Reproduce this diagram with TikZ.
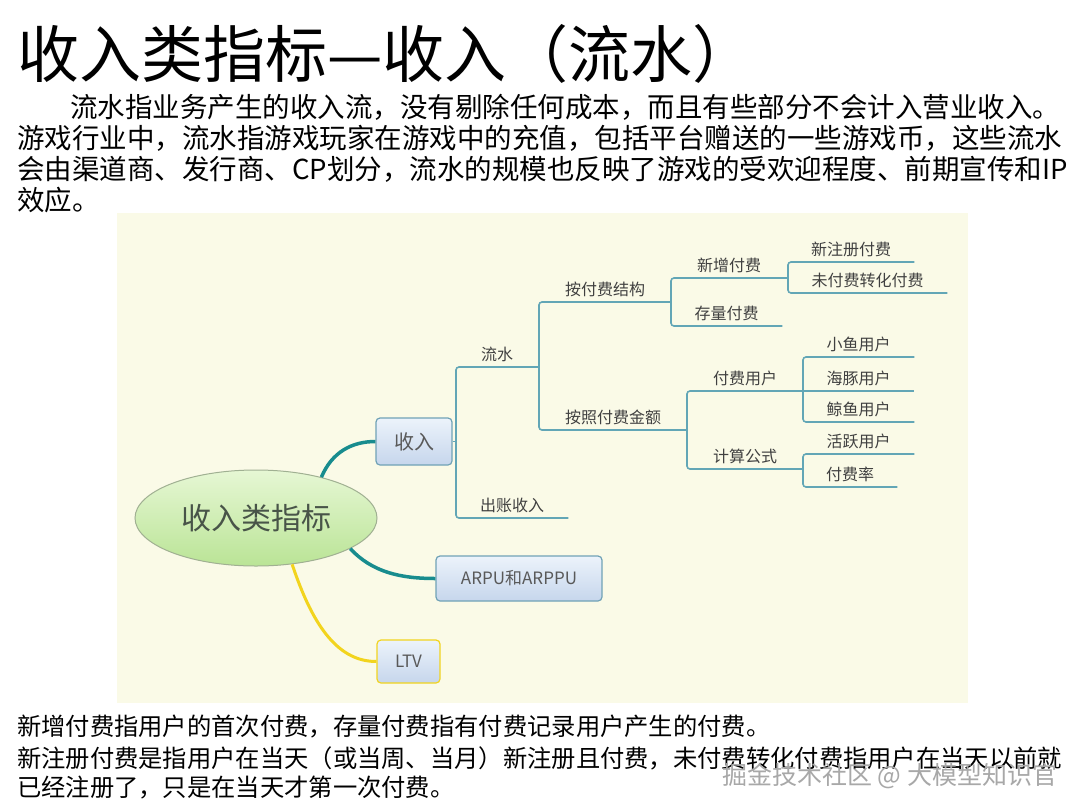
\documentclass[tikz,border=0pt]{standalone}
\usepackage{fontspec}
\setmainfont{Noto Sans CJK SC}
\usepackage{tikz}
\usetikzlibrary{shapes.geometric}

\definecolor{mapbg}{RGB}{250,250,231}
\definecolor{treeline}{RGB}{98,166,182}
\definecolor{linkteal}{RGB}{24,140,142}
\definecolor{linkyellow}{RGB}{242,212,30}
\definecolor{boxline}{RGB}{112,162,182}
\definecolor{marktext}{RGB}{168,168,168}

\begin{document}
\begin{tikzpicture}[x=1pt, y=-1pt,
    title/.style={anchor=west, inner sep=0, font=\fontsize{62}{64}\selectfont},
    para/.style={anchor=west, inner sep=0, font=\fontsize{27.5}{30}\selectfont},
    note/.style={anchor=west, inner sep=0, font=\fontsize{24.3}{26}\selectfont},
    topic/.style={ellipse, draw={rgb,255:red,160;green,176;blue,146}, line width=1pt,
      top color={rgb,255:red,230;green,247;blue,212}, bottom color={rgb,255:red,186;green,228;blue,150},
      minimum width=242pt, minimum height=96pt, text={rgb,255:red,72;green,84;blue,72},
      font=\fontsize{30}{30}\selectfont},
    sub/.style={draw=boxline, line width=1.2pt, rounded corners=4pt,
      top color={rgb,255:red,236;green,243;blue,251}, bottom color={rgb,255:red,198;green,214;blue,236},
      text=black!65, inner sep=0},
    link/.style={line width=3.5pt, linkteal},
    branch/.style={draw=treeline, line width=1.6pt, rounded corners=3pt},
    leaf/.style={anchor=south west, inner xsep=0, inner ysep=5.5pt, text height=0.8em, text depth=0.1em,
      font=\fontsize{16}{16}\selectfont, text=black!75}]
  \fill[white] (0,0) rectangle (1080,812);
  \useasboundingbox (0,0) rectangle (1080,812);

  % heading and text above the map
  \node[title] (head) at (17,54) {收入类指标—收入（流水）};
  \node[para] (p1) at (70,107) {流水指业务产生的收入流，没有剔除任何成本，而且有些部分不会计入营业收入。};
  \node[para] (p2) at (17,138) {游戏行业中，流水指游戏玩家在游戏中的充值，包括平台赠送的一些游戏币，这些流水};
  \node[para] (p3) at (17,169) {会由渠道商、发行商、CP划分，流水的规模也反映了游戏的受欢迎程度、前期宣传和IP};
  \node[para] (p4) at (17,200) {效应。};

  % mind map
  \fill[mapbg] (117,213) rectangle (968,703);
  \node[topic] (root) at (256,518) {收入类指标};
  \node[sub, minimum width=76pt, minimum height=47pt, font=\fontsize{20}{20}\selectfont] (shouru) at (414,441.5) {收入};
  \node[sub, minimum width=166pt, minimum height=45pt, font=\fontsize{17}{17}\selectfont] (arpu) at (519,578.5) {ARPU和ARPPU};
  \node[sub, draw=linkyellow, minimum width=63pt, minimum height=43pt, font=\fontsize{17}{17}\selectfont] (ltv) at (408.5,661.5) {LTV};

  \draw[link] (root.32) .. controls (332,452) and (352,441.5) .. (shouru.west);
  \draw[link] (root.-18) .. controls (372,572) and (400,578.5) .. (arpu.west);
  \draw[link, linkyellow, line width=3pt] (root.-52) .. controls (314,630) and (340,661.5) .. (ltv.west);

  \node[leaf, minimum width=82pt] (liushui) at (456,367) {流水};
  \node[leaf, minimum width=112pt] (chuzhang) at (456,518) {出账收入};
  \node[leaf, minimum width=132pt] (jiegou) at (539,302) {按付费结构};
  \node[leaf, minimum width=148pt] (jine) at (539,430) {按照付费金额};
  \node[leaf, minimum width=116pt] (xinzeng) at (671,278) {新增付费};
  \node[leaf, minimum width=111pt] (cunliang) at (671,326) {存量付费};
  \node[leaf, minimum width=126pt] (xinzhuce) at (788,262) {新注册付费};
  \node[leaf, minimum width=159pt] (zhuanhua) at (788,293) {未付费转化付费};
  \node[leaf, minimum width=116pt] (fuyong) at (687,391) {付费用户};
  \node[leaf, minimum width=116pt] (gongshi) at (687,469) {计算公式};
  \node[leaf, minimum width=111pt] (xiaoyu) at (803,357) {小鱼用户};
  \node[leaf, minimum width=111pt] (haitun) at (803,391) {海豚用户};
  \node[leaf, minimum width=111pt] (jingyu) at (803,422) {鲸鱼用户};
  \node[leaf, minimum width=111pt] (huoyue) at (803,454) {活跃用户};
  \node[leaf, minimum width=94pt] (fulv) at (803,487) {付费率};

  \draw[branch] (shouru.east) -- (liushui.south west |- shouru.east);
  \draw[branch] (liushui.south east) -- (liushui.south west) -- (chuzhang.south west) -- (chuzhang.south east);
  \draw[branch] (jiegou.south east) -- (jiegou.south west) -- (jine.south west) -- (jine.south east);
  \draw[branch] (xinzeng.south east) -- (xinzeng.south west) -- (cunliang.south west) -- (cunliang.south east);
  \draw[branch] (xinzhuce.south east) -- (xinzhuce.south west) -- (zhuanhua.south west) -- (zhuanhua.south east);
  \draw[branch] (fuyong.south east) -- (fuyong.south west) -- (gongshi.south west) -- (gongshi.south east);
  \draw[branch] (xiaoyu.south east) -- (xiaoyu.south west) -- (jingyu.south west) -- (jingyu.south east);
  \draw[branch] (haitun.south west) -- (haitun.south east);
  \draw[branch] (huoyue.south east) -- (huoyue.south west) -- (fulv.south west) -- (fulv.south east);

  % notes below the map
  \node[note] (n1) at (17,727) {新增付费指用户的首次付费，存量付费指有付费记录用户产生的付费。};
  \node[note] (n2) at (17,758) {新注册付费是指用户在当天（或当周、当月）新注册且付费，未付费转化付费指用户在当天以前就};
  \node[note] (n3) at (17,788) {已经注册了，只是在当天才第一次付费。};
  \node[anchor=west, inner sep=0, text=marktext, font=\fontsize{25}{27}\selectfont] (mark) at (722,776) {掘金技术社区 @ 大模型知识官};
\end{tikzpicture}
\end{document}
